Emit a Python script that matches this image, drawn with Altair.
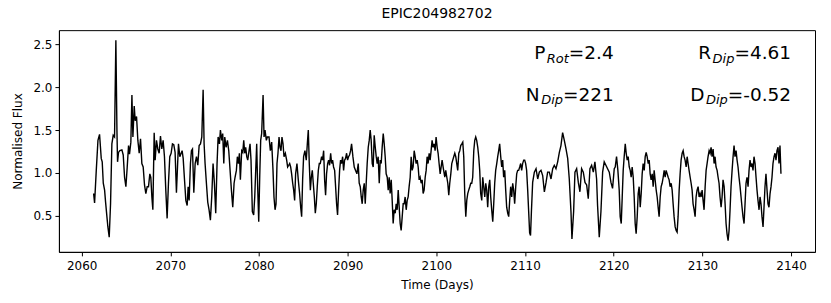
import altair as alt
import pandas as pd

# ---------------- data ----------------
time = [
    2061.35, 2061.46, 2061.65, 2061.84, 2062.02, 2062.21, 2062.32, 2062.44, 2062.59, 2062.70,
    2062.85, 2062.96, 2063.11, 2063.26, 2063.41, 2063.56, 2063.71, 2063.86, 2063.98, 2064.05,
    2064.16, 2064.31, 2064.54, 2064.69, 2064.84, 2064.99, 2065.14, 2065.29, 2065.40, 2065.55,
    2065.67, 2065.78, 2065.93, 2066.04, 2066.19, 2066.34, 2066.49, 2066.64, 2066.79, 2066.94,
    2067.09, 2067.24, 2067.39, 2067.54, 2067.69, 2067.80, 2067.92, 2068.03, 2068.18, 2068.29,
    2068.44, 2068.59, 2068.74, 2068.89, 2069.04, 2069.19, 2069.34, 2069.49, 2069.64, 2069.79,
    2069.94, 2070.09, 2070.24, 2070.39, 2070.54, 2070.69, 2070.81, 2070.92, 2071.07, 2071.22,
    2071.33, 2071.45, 2071.60, 2071.75, 2071.90, 2072.01, 2072.12, 2072.27, 2072.38, 2072.50,
    2072.65, 2072.80, 2072.95, 2073.10, 2073.25, 2073.40, 2073.55, 2073.70, 2073.81, 2073.92,
    2074.07, 2074.22, 2074.37, 2074.52, 2074.67, 2074.82, 2074.97, 2075.12, 2075.27, 2075.39,
    2075.54, 2075.65, 2075.80, 2075.91, 2076.03, 2076.14, 2076.29, 2076.44, 2076.59, 2076.74,
    2076.89, 2077.04, 2077.19, 2077.30, 2077.45, 2077.56, 2077.68, 2077.79, 2077.90, 2078.05,
    2078.17, 2078.28, 2078.39, 2078.50, 2078.62, 2078.73, 2078.88, 2078.99, 2079.10, 2079.25,
    2079.40, 2079.52, 2079.63, 2079.74, 2079.85, 2079.97, 2080.08, 2080.19, 2080.30, 2080.46,
    2080.57, 2080.68, 2080.83, 2080.94, 2081.13, 2081.28, 2081.43, 2081.58, 2081.69, 2081.81,
    2081.92, 2082.03, 2082.14, 2082.26, 2082.37, 2082.48, 2082.59, 2082.71, 2082.82, 2082.97,
    2083.12, 2083.23, 2083.35, 2083.46, 2083.57, 2083.68, 2083.80, 2083.91, 2084.02, 2084.13,
    2084.28, 2084.43, 2084.58, 2084.70, 2084.81, 2084.92, 2085.03, 2085.18, 2085.33, 2085.45,
    2085.56, 2085.67, 2085.79, 2085.90, 2086.01, 2086.12, 2086.24, 2086.35, 2086.46, 2086.57,
    2086.69, 2086.80, 2086.91, 2087.06, 2087.17, 2087.29, 2087.40, 2087.51, 2087.62, 2087.74,
    2087.85, 2087.96, 2088.08, 2088.19, 2088.30, 2088.41, 2088.53, 2088.64, 2088.75, 2088.86,
    2088.98, 2089.09, 2089.20, 2089.31, 2089.43, 2089.54, 2089.65, 2089.76, 2089.88, 2089.99,
    2090.10, 2090.21, 2090.33, 2090.44, 2090.59, 2090.74, 2090.89, 2091.04, 2091.19, 2091.30,
    2091.42, 2091.53, 2091.64, 2091.75, 2091.87, 2091.98, 2092.09, 2092.20, 2092.32, 2092.43,
    2092.54, 2092.65, 2092.77, 2092.88, 2092.99, 2093.11, 2093.22, 2093.33, 2093.44, 2093.56,
    2093.67, 2093.78, 2093.89, 2094.01, 2094.12, 2094.23, 2094.34, 2094.46, 2094.57, 2094.68,
    2094.79, 2094.91, 2095.02, 2095.13, 2095.24, 2095.36, 2095.47, 2095.58, 2095.70, 2095.81,
    2095.92, 2096.03, 2096.15, 2096.26, 2096.37, 2096.48, 2096.60, 2096.71, 2096.82, 2096.93,
    2097.05, 2097.16, 2097.27, 2097.38, 2097.50, 2097.61, 2097.72, 2097.84, 2097.95, 2098.06,
    2098.17, 2098.29, 2098.40, 2098.51, 2098.62, 2098.74, 2098.85, 2098.96, 2099.07, 2099.19,
    2099.30, 2099.41, 2099.52, 2099.64, 2099.75, 2099.86, 2099.97, 2100.09, 2100.20, 2100.31,
    2100.43, 2100.54, 2100.65, 2100.76, 2100.95, 2101.06, 2101.18, 2101.29, 2101.40, 2101.51,
    2101.63, 2101.74, 2101.85, 2101.96, 2102.08, 2102.19, 2102.30, 2102.41, 2102.53, 2102.64,
    2102.75, 2102.87, 2102.98, 2103.09, 2103.20, 2103.32, 2103.43, 2103.54, 2103.65, 2103.77,
    2103.88, 2103.99, 2104.10, 2104.22, 2104.33, 2104.44, 2104.55, 2104.67, 2104.78, 2104.89,
    2105.00, 2105.12, 2105.23, 2105.34, 2105.46, 2105.57, 2105.68, 2105.79, 2105.91, 2106.02,
    2106.13, 2106.24, 2106.36, 2106.47, 2106.58, 2106.69, 2106.81, 2106.92, 2107.03, 2107.14,
    2107.26, 2107.37, 2107.48, 2107.59, 2107.71, 2107.82, 2107.93, 2108.05, 2108.16, 2108.27,
    2108.38, 2108.50, 2108.61, 2108.72, 2108.83, 2108.95, 2109.06, 2109.17, 2109.28, 2109.40,
    2109.51, 2109.62, 2109.73, 2109.85, 2109.96, 2110.07, 2110.18, 2110.30, 2110.41, 2110.52,
    2110.62, 2110.72, 2110.86, 2111.05, 2111.24, 2111.43, 2111.61, 2111.80, 2111.99, 2112.18,
    2112.37, 2112.55, 2112.74, 2112.93, 2113.12, 2113.30, 2113.49, 2113.68, 2113.87, 2114.05,
    2114.24, 2114.43, 2114.62, 2114.81, 2114.99, 2115.18, 2115.29, 2115.48, 2115.63, 2115.82,
    2116.01, 2116.19, 2116.38, 2116.57, 2116.76, 2116.95, 2117.13, 2117.32, 2117.51, 2117.70,
    2117.88, 2118.07, 2118.18, 2118.37, 2118.56, 2118.75, 2118.93, 2119.12, 2119.31, 2119.50,
    2119.69, 2119.87, 2120.06, 2120.17, 2120.32, 2120.47, 2120.62, 2120.73, 2120.85, 2120.96,
    2121.07, 2121.18, 2121.30, 2121.41, 2121.52, 2121.63, 2121.75, 2121.86, 2121.97, 2122.08,
    2122.20, 2122.31, 2122.42, 2122.53, 2122.65, 2122.76, 2122.87, 2122.99, 2123.10, 2123.21,
    2123.32, 2123.44, 2123.55, 2123.66, 2123.77, 2123.89, 2124.00, 2124.11, 2124.22, 2124.34,
    2124.45, 2124.56, 2124.67, 2124.79, 2124.90, 2125.01, 2125.12, 2125.24, 2125.35, 2125.46,
    2125.58, 2125.69, 2125.80, 2125.91, 2126.03, 2126.14, 2126.25, 2126.36, 2126.48, 2126.59,
    2126.70, 2126.81, 2126.93, 2127.04, 2127.15, 2127.26, 2127.38, 2127.49, 2127.60, 2127.72,
    2127.83, 2127.94, 2128.05, 2128.17, 2128.28, 2128.39, 2128.50, 2128.62, 2128.73, 2128.84,
    2128.95, 2129.07, 2129.18, 2129.29, 2129.40, 2129.52, 2129.63, 2129.74, 2129.85, 2129.97,
    2130.08, 2130.19, 2130.31, 2130.42, 2130.53, 2130.64, 2130.76, 2130.87, 2130.98, 2131.09,
    2131.21, 2131.32, 2131.43, 2131.54, 2131.66, 2131.77, 2131.88, 2131.99, 2132.11, 2132.22,
    2132.33, 2132.45, 2132.56, 2132.67, 2132.78, 2132.90, 2133.01, 2133.12, 2133.23, 2133.35,
    2133.46, 2133.57, 2133.68, 2133.80, 2133.91, 2134.02, 2134.13, 2134.25, 2134.36, 2134.47,
    2134.58, 2134.70, 2134.81, 2134.92, 2135.03, 2135.15, 2135.26, 2135.37, 2135.49, 2135.60,
    2135.71, 2135.82, 2135.94, 2136.05, 2136.16, 2136.27, 2136.39, 2136.50, 2136.61, 2136.72,
    2136.84, 2136.95, 2137.06, 2137.17, 2137.29, 2137.40, 2137.51, 2137.63, 2137.74, 2137.85,
    2137.96, 2138.08, 2138.19, 2138.30, 2138.41, 2138.53, 2138.64, 2138.75, 2138.86,
]

flux = [
    0.76, 0.65, 1.03, 1.38, 1.45, 1.17, 1.13, 0.88, 0.80, 0.66,
    0.49, 0.37, 0.25, 0.64, 1.34, 1.44, 1.42, 2.55, 1.50, 1.13,
    1.24, 1.26, 1.27, 1.21, 0.95, 0.84, 1.07, 1.32, 1.22, 1.36,
    1.91, 1.42, 1.78, 1.61, 1.66, 1.38, 1.23, 1.40, 1.11, 1.07,
    0.86, 0.76, 0.84, 0.84, 0.99, 0.95, 0.72, 0.57, 1.47, 1.15,
    1.38, 1.28, 1.23, 1.43, 1.28, 1.38, 1.19, 0.80, 0.47, 0.88,
    1.19, 1.23, 1.34, 1.33, 1.24, 0.77, 1.07, 1.34, 1.19, 1.23,
    1.26, 1.17, 0.92, 0.68, 0.62, 0.84, 0.68, 1.11, 1.26, 1.28,
    0.77, 1.11, 1.19, 1.09, 1.32, 1.34, 1.42, 1.97, 1.34, 1.11,
    0.88, 0.66, 0.57, 0.45, 0.72, 1.11, 0.88, 0.53, 1.11, 1.42,
    1.34, 1.50, 1.38, 1.46, 1.11, 1.42, 1.30, 1.38, 1.26, 1.03,
    0.80, 0.60, 0.88, 0.95, 1.03, 1.19, 1.11, 1.23, 0.92, 1.26,
    1.24, 1.38, 1.23, 1.30, 1.19, 1.15, 1.26, 1.34, 1.15, 0.55,
    0.51, 0.72, 1.03, 1.34, 0.84, 0.43, 0.95, 1.38, 1.46, 1.91,
    1.42, 1.50, 1.38, 1.42, 1.42, 1.26, 1.36, 1.03, 0.72, 0.57,
    0.64, 1.11, 1.23, 1.42, 1.30, 1.26, 1.42, 1.34, 1.19, 1.23,
    1.15, 1.07, 1.09, 1.11, 1.07, 0.99, 0.88, 0.80, 0.68, 0.99,
    1.11, 0.92, 0.76, 0.60, 0.49, 0.92, 1.19, 1.26, 1.15, 1.34,
    1.50, 1.11, 0.80, 0.95, 1.03, 0.88, 0.72, 0.53, 0.64, 0.84,
    1.03, 1.11, 1.11, 1.19, 1.15, 1.26, 0.92, 0.74, 0.99, 1.11,
    1.15, 1.09, 1.23, 1.11, 1.15, 1.07, 1.03, 0.84, 0.64, 0.51,
    0.80, 1.03, 1.15, 1.11, 1.19, 1.03, 1.15, 1.17, 1.23, 1.15,
    1.19, 1.21, 1.26, 1.34, 1.19, 1.07, 1.03, 0.99, 1.11, 0.88,
    0.84, 0.72, 0.64, 0.80, 0.88, 0.64, 0.88, 1.11, 1.30, 1.38,
    1.50, 1.38, 1.11, 1.07, 1.44, 1.30, 1.19, 1.11, 1.19, 0.88,
    1.15, 1.11, 1.30, 1.46, 1.34, 1.19, 0.99, 0.95, 0.80, 0.95,
    0.76, 0.92, 0.68, 0.41, 0.57, 0.53, 0.64, 0.57, 0.80, 0.60,
    0.41, 0.33, 0.49, 0.64, 0.64, 0.72, 0.57, 0.68, 0.72, 0.84,
    0.95, 1.19, 1.03, 1.07, 1.26, 1.19, 1.11, 1.15, 1.07, 0.92,
    0.95, 0.88, 0.92, 0.76, 0.80, 0.95, 1.03, 1.19, 1.11, 1.23,
    1.15, 1.26, 1.38, 1.30, 1.34, 1.26, 1.42, 1.30, 1.23, 1.11,
    0.99, 1.07, 1.15, 1.07, 0.95, 1.03, 0.95, 0.88, 0.74, 0.88,
    0.99, 1.11, 1.15, 1.19, 1.23, 1.19, 1.11, 1.03, 1.23, 1.26,
    1.32, 1.34, 1.36, 1.19, 0.76, 0.49, 0.68, 0.76, 0.80, 0.84,
    0.88, 0.88, 0.95, 1.26, 1.38, 1.42, 1.38, 1.30, 1.19, 1.03,
    0.76, 0.68, 0.95, 0.84, 0.72, 0.88, 0.80, 0.60, 0.84, 0.92,
    0.72, 0.57, 0.43, 0.64, 0.88, 1.03, 1.11, 1.19, 1.26, 1.34,
    1.19, 1.07, 1.15, 0.95, 1.03, 0.80, 0.60, 0.53, 0.49, 0.68,
    0.84, 0.72, 0.88, 0.80, 0.64, 0.84, 0.99, 1.03, 1.03, 1.07,
    1.11, 1.03, 1.11, 1.15, 1.15, 1.11, 1.03, 0.80, 0.55, 0.30,
    0.27, 0.55, 0.89, 1.01, 1.05, 0.93, 1.01, 1.03, 0.97, 0.78,
    0.89, 1.01, 1.01, 0.93, 1.05, 1.09, 1.05, 1.13, 1.24, 1.32,
    1.47, 1.38, 1.28, 1.17, 0.93, 0.55, 0.23, 0.55, 1.01, 1.05,
    0.89, 0.78, 1.05, 1.01, 0.89, 0.86, 0.70, 1.05, 1.09, 1.01,
    1.13, 0.93, 0.62, 0.25, 0.55, 1.01, 1.13, 1.09, 1.05, 1.01,
    0.89, 0.82, 1.05, 1.07, 1.19, 1.03, 0.80, 0.49, 0.41, 0.72,
    1.03, 1.19, 1.34, 1.23, 1.15, 1.19, 1.07, 1.03, 0.95, 1.07,
    0.95, 0.72, 0.41, 0.29, 0.49, 0.76, 0.84, 0.60, 0.76, 0.99,
    1.11, 1.03, 1.19, 1.24, 1.19, 1.11, 1.15, 0.99, 0.92, 0.99,
    0.84, 1.03, 0.92, 0.80, 0.72, 0.60, 0.49, 0.72, 0.84, 0.88,
    0.95, 1.03, 0.95, 1.03, 0.99, 0.95, 0.92, 0.84, 0.88, 0.80,
    0.64, 0.49, 0.37, 0.33, 0.31, 0.49, 0.80, 0.99, 1.15, 1.23,
    1.26, 1.19, 1.15, 1.07, 1.19, 1.11, 1.03, 0.95, 0.88, 0.80,
    0.64, 0.57, 0.49, 0.72, 0.80, 0.84, 0.72, 0.76, 0.72, 0.80,
    0.68, 0.57, 0.84, 1.03, 1.11, 1.19, 1.26, 1.23, 1.30, 1.19,
    1.28, 1.11, 1.19, 1.07, 1.03, 0.95, 0.88, 0.72, 0.60, 0.72,
    0.92, 0.84, 0.64, 0.41, 0.29, 0.21, 0.33, 0.57, 0.84, 1.03,
    1.19, 1.32, 1.19, 1.26, 1.15, 1.07, 0.95, 0.84, 0.72, 0.60,
    0.49, 0.41, 0.64, 0.88, 0.95, 0.84, 1.03, 1.15, 1.07, 1.11,
    1.03, 1.19, 1.11, 0.95, 0.80, 0.68, 0.57, 0.72, 0.64, 0.49,
    0.37, 0.60, 0.84, 0.99, 0.80, 0.64, 0.60, 0.76, 0.84, 0.95,
    1.11, 1.19, 1.23, 1.15, 1.26, 1.30, 1.11, 1.32, 0.99,
]

chart_title = "EPIC204982702"
x_label = "Time (Days)"
y_label = "Normalised Flux"
x_ticks = [2060, 2070, 2080, 2090, 2100, 2110, 2120, 2130, 2140]
y_ticks = [0.5, 1.0, 1.5, 2.0, 2.5]

# annotations: main letter, subscript, value text
ann_main = ["P", "R", "N", "D"]
ann_sub = ["Rot", "Dip", "Dip", "Dip"]
ann_value = ["=2.4", "=4.61", "=221", "=-0.52"]
ann_time = [2120, 2140, 2120, 2140]
ann_flux = [2.33, 2.33, 1.84, 1.84]

# ---------------- styling ----------------
FONT = "DejaVu Sans"
BIG = 18.5
SMALL = 13.0
X_DOMAIN = [2057.44, 2142.70]
Y_DOMAIN = [0.079, 2.667]

# DejaVu Sans advance widths (em) used to right-align the composed labels
W_UP = {"P": 0.603, "R": 0.695, "N": 0.748, "D": 0.770, "=": 0.838, "-": 0.361,
        ".": 0.318}
for _d in "0123456789":
    W_UP[_d] = 0.636
W_OBL = {"R": 0.695, "o": 0.612, "t": 0.392, "D": 0.770, "i": 0.278, "p": 0.635}


def text_w(s, size, table):
    return sum(table.get(c, 0.6) for c in s) * size


n = min(len(time), len(flux))
df = pd.DataFrame({"time": time[:n], "flux": flux[:n]})

xscale = alt.Scale(domain=X_DOMAIN, nice=False, zero=False)
yscale = alt.Scale(domain=Y_DOMAIN, nice=False, zero=False)

line = alt.Chart(df).mark_line(color="black", strokeWidth=1.4).encode(
    x=alt.X("time:Q", scale=xscale,
            axis=alt.Axis(values=x_ticks, format="d", title=x_label)),
    y=alt.Y("flux:Q", scale=yscale,
            axis=alt.Axis(values=y_ticks, format=".1f", title=y_label)),
)

layers = [line]
for m, s, v, tx, fy in zip(ann_main, ann_sub, ann_value, ann_time, ann_flux):
    d = pd.DataFrame({"time": [tx], "flux": [fy]})
    wv = text_w(v, BIG, W_UP)
    ws = text_w(s, SMALL, W_OBL)
    base = alt.Chart(d)
    enc = dict(x=alt.X("time:Q", scale=xscale), y=alt.Y("flux:Q", scale=yscale))
    layers.append(base.mark_text(text=v, align="right", baseline="alphabetic",
                                 font=FONT, fontSize=BIG, color="black").encode(**enc))
    layers.append(base.mark_text(text=s, align="right", baseline="alphabetic",
                                 font=FONT, fontSize=SMALL, fontStyle="italic",
                                 color="black", dx=-wv, dy=3.5).encode(**enc))
    layers.append(base.mark_text(text=m, align="right", baseline="alphabetic",
                                 font=FONT, fontSize=BIG, color="black",
                                 dx=-(wv + ws + 1.5)).encode(**enc))

chart = alt.layer(*layers).properties(
    width=757,
    height=222,
    title=alt.TitleParams(chart_title, font=FONT, fontSize=14, fontWeight="normal",
                          color="black", anchor="middle", offset=9),
    autosize=alt.AutoSizeParams(type="none"),
    padding={"left": 51, "top": 22, "right": 8, "bottom": 44},
).configure_view(
    stroke="black", strokeWidth=1
).configure_axis(
    grid=False,
    domainColor="black", domainWidth=1,
    tickColor="black", tickSize=4, tickWidth=1,
    labelFont=FONT, labelFontSize=12, labelColor="black",
    titleFont=FONT, titleFontSize=12, titleColor="black", titleFontWeight="normal",
).configure_axisX(
    labelPadding=5, titlePadding=8
).configure_axisY(
    labelPadding=3, titlePadding=8
)

chart.save("out.html", embed_options={"renderer": "svg", "actions": False})
